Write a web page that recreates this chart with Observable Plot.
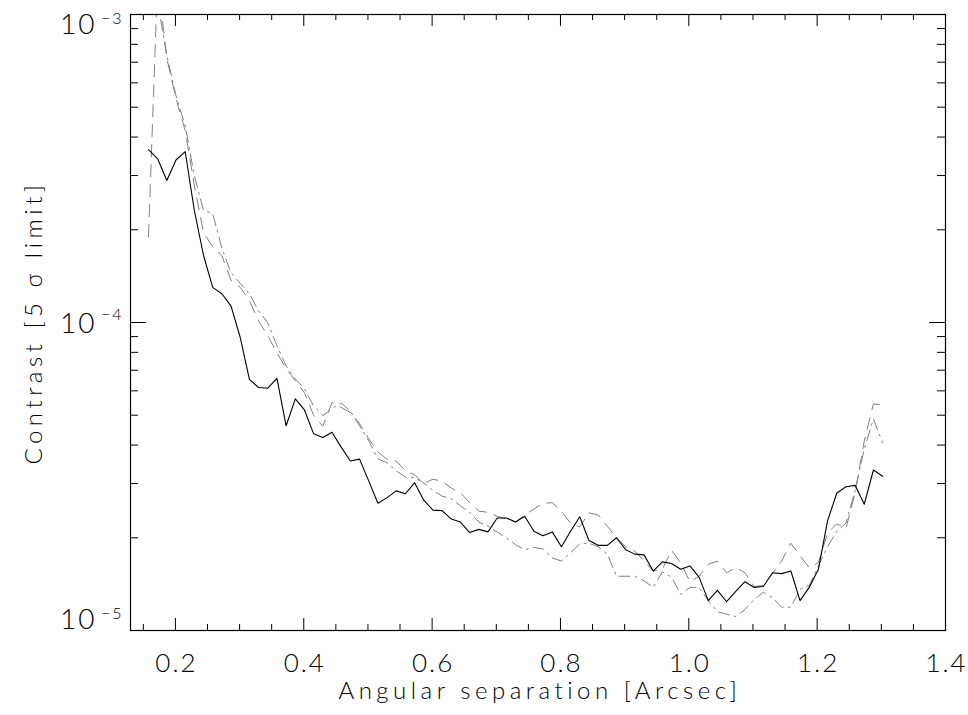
<!DOCTYPE html>
<html>
<head>
<meta charset="utf-8">
<script src="https://cdn.jsdelivr.net/npm/d3@7"></script>
<script src="https://cdn.jsdelivr.net/npm/@observablehq/plot@0.6"></script>
<style>
  html, body { margin: 0; padding: 0; background: #fff; }
  #chart svg { display: block; }
</style>
</head>
<body>
<div id="chart"></div>
<script>
// Radial sampling of the contrast curves (arcsec)
const radiusStart = 0.158;
const radiusStep = 0.0143;

// 5-sigma contrast, solid black curve
const contrastSolid = [
  3.64e-4, 3.40e-4, 2.89e-4, 3.37e-4, 3.59e-4, 2.31e-4, 1.65e-4, 1.30e-4, 1.24e-4, 1.13e-4,
  8.94e-5, 6.54e-5, 6.15e-5, 6.12e-5, 6.59e-5, 4.62e-5, 5.65e-5, 5.20e-5, 4.35e-5, 4.23e-5,
  4.40e-5, 3.94e-5, 3.55e-5, 3.60e-5, 3.06e-5, 2.59e-5, 2.70e-5, 2.84e-5, 2.78e-5, 3.02e-5,
  2.65e-5, 2.46e-5, 2.45e-5, 2.30e-5, 2.25e-5, 2.08e-5, 2.13e-5, 2.09e-5, 2.32e-5, 2.32e-5,
  2.25e-5, 2.35e-5, 2.10e-5, 2.03e-5, 2.09e-5, 1.87e-5, 2.10e-5, 2.34e-5, 1.96e-5, 1.89e-5,
  1.89e-5, 2.00e-5, 1.83e-5, 1.77e-5, 1.76e-5, 1.56e-5, 1.67e-5, 1.65e-5, 1.58e-5, 1.62e-5,
  1.49e-5, 1.25e-5, 1.35e-5, 1.24e-5, 1.34e-5, 1.44e-5, 1.38e-5, 1.39e-5, 1.54e-5, 1.53e-5,
  1.56e-5, 1.25e-5, 1.38e-5, 1.58e-5, 2.27e-5, 2.79e-5, 2.93e-5, 2.96e-5, 2.57e-5, 3.32e-5,
  3.17e-5
];

// 5-sigma contrast, grey dashed curve
const contrastDashed = [
  1.9e-4, 1.3e-3, 7.2e-4, 5.33e-4, 4.2e-4, 2.78e-4, 1.96e-4, 1.76e-4, 1.65e-4, 1.37e-4,
  1.30e-4, 1.18e-4, 1.01e-4, 9.06e-5, 7.98e-5, 7.08e-5, 6.47e-5, 5.91e-5, 5.0e-5, 4.6e-5,
  5.5e-5, 5.3e-5, 5.1e-5, 4.7e-5, 4.2e-5, 3.8e-5, 3.6e-5, 3.55e-5, 3.3e-5, 3.2e-5,
  3.0e-5, 3.1e-5, 3.05e-5, 2.9e-5, 2.8e-5, 2.6e-5, 2.44e-5, 2.42e-5, 2.35e-5, 2.30e-5,
  2.25e-5, 2.37e-5, 2.48e-5, 2.59e-5, 2.60e-5, 2.44e-5, 2.23e-5, 2.17e-5, 2.41e-5, 2.37e-5,
  2.18e-5, 2.0e-5, 1.87e-5, 1.81e-5, 1.68e-5, 1.56e-5, 1.58e-5, 1.82e-5, 1.66e-5, 1.44e-5,
  1.50e-5, 1.64e-5, 1.68e-5, 1.54e-5, 1.60e-5, 1.54e-5, 1.39e-5, 1.40e-5, 1.53e-5, 1.68e-5,
  1.92e-5, 1.75e-5, 1.60e-5, 1.66e-5, 2.07e-5, 2.22e-5, 2.14e-5, 2.80e-5, 4.12e-5, 5.44e-5,
  5.4e-5
];

// 5-sigma contrast, grey dash-dot curve
const contrastDashDot = [
  1.6e-3, 1.1e-3, 7.35e-4, 5.45e-4, 4.36e-4, 3.0e-4, 2.31e-4, 2.26e-4, 1.74e-4, 1.45e-4,
  1.34e-4, 1.24e-4, 1.09e-4, 9.98e-5, 8.4e-5, 7.23e-5, 6.56e-5, 6.09e-5, 5.36e-5, 4.98e-5,
  5.25e-5, 5.48e-5, 5.16e-5, 4.62e-5, 4.13e-5, 3.61e-5, 3.5e-5, 3.3e-5, 3.15e-5, 3.14e-5,
  3.01e-5, 2.85e-5, 2.73e-5, 2.68e-5, 2.54e-5, 2.42e-5, 2.25e-5, 2.18e-5, 2.09e-5, 2.0e-5,
  1.90e-5, 1.83e-5, 1.86e-5, 1.84e-5, 1.72e-5, 1.68e-5, 1.79e-5, 1.91e-5, 1.92e-5, 1.87e-5,
  1.77e-5, 1.50e-5, 1.50e-5, 1.50e-5, 1.45e-5, 1.38e-5, 1.55e-5, 1.49e-5, 1.31e-5, 1.38e-5,
  1.38e-5, 1.25e-5, 1.15e-5, 1.13e-5, 1.11e-5, 1.17e-5, 1.26e-5, 1.33e-5, 1.28e-5, 1.19e-5,
  1.19e-5, 1.36e-5, 1.40e-5, 1.62e-5, 1.87e-5, 2.10e-5, 2.23e-5, 2.84e-5, 3.89e-5, 4.86e-5,
  4.06e-5
];

// Axis ticks and titles
const xMajorTicks = [0.2, 0.4, 0.6, 0.8, 1.0, 1.2, 1.4];
const xMinorTicks = [0.15, 0.25, 0.3, 0.35, 0.45, 0.5, 0.55, 0.65, 0.7, 0.75, 0.85, 0.9, 0.95, 1.05, 1.1, 1.15, 1.25, 1.3, 1.35];
const yMajorTicks = [1e-5, 1e-4, 1e-3];
const yMinorTicks = [2e-5, 3e-5, 4e-5, 5e-5, 6e-5, 7e-5, 8e-5, 9e-5, 2e-4, 3e-4, 4e-4, 5e-4, 6e-4, 7e-4, 8e-4, 9e-4];
const xTitle = "Angular separation [Arcsec]";
const yTitle = "Contrast [5 σ limit]";

const radii = contrastSolid.map((_, i) => radiusStart + i * radiusStep);

const W = 968, H = 715;
const mL = 130, mR = 23, mT = 14, mB = 85;
const fw = W - mL - mR, fh = H - mT - mB;
const ink = "#000";
const grey = "#808080";
const font = "Lato, 'Liberation Sans', sans-serif";

function yLabelMarks(t) {
  const isTop = t === d3.max(yMajorTicks);
  const isBottom = t === d3.min(yMajorTicks);
  const dyMain = isTop ? 11 : isBottom ? -10 : 2;
  const dyExp = isTop ? 4 : isBottom ? -17 : -8;
  return [
    Plot.text([t], {y: d => d, frameAnchor: "left", text: () => "10", textAnchor: "end", lineAnchor: "middle",
      dx: -34, dy: dyMain, fontSize: 28, fill: ink, fontWeight: 300}),
    Plot.text([t], {y: d => d, frameAnchor: "left", text: d => "\u2212" + Math.round(Math.abs(Math.log10(d))),
      textAnchor: "end", lineAnchor: "middle", dx: -7, dy: dyExp, fontSize: 16, fill: ink, fontWeight: 300})
  ];
}

const chart = Plot.plot({
  width: W,
  height: H,
  marginLeft: mL,
  marginRight: mR,
  marginTop: mT,
  marginBottom: mB,
  style: {fontFamily: font, letterSpacing: "2px", background: "#fff", color: ink},
  x: {domain: [0.13, 1.4], axis: null},
  y: {type: "log", domain: [1e-5, 1e-3], axis: null},
  marks: [
    // curves
    Plot.line(contrastDashDot, {x: (d, i) => radii[i], y: d => d, stroke: grey, strokeWidth: 1,
      strokeDasharray: "11,5,2,5", clip: true}),
    Plot.line(contrastDashed, {x: (d, i) => radii[i], y: d => d, stroke: grey, strokeWidth: 1,
      strokeDasharray: "12,8", clip: true}),
    Plot.line(contrastSolid, {x: (d, i) => radii[i], y: d => d, stroke: "#000", strokeWidth: 1.1, clip: true}),
    // inward ticks, all four sides
    Plot.tickX(xMajorTicks, {x: d => d, insetTop: fh - 12, stroke: ink}),
    Plot.tickX(xMajorTicks, {x: d => d, insetBottom: fh - 12, stroke: ink}),
    Plot.tickX(xMinorTicks, {x: d => d, insetTop: fh - 6, stroke: ink}),
    Plot.tickX(xMinorTicks, {x: d => d, insetBottom: fh - 6, stroke: ink}),
    Plot.tickY(yMajorTicks, {y: d => d, insetRight: fw - 16, stroke: ink}),
    Plot.tickY(yMajorTicks, {y: d => d, insetLeft: fw - 16, stroke: ink}),
    Plot.tickY(yMinorTicks, {y: d => d, insetRight: fw - 8, stroke: ink}),
    Plot.tickY(yMinorTicks, {y: d => d, insetLeft: fw - 8, stroke: ink}),
    Plot.frame({stroke: ink, strokeWidth: 1.2}),
    // tick labels
    Plot.text(xMajorTicks, {x: d => d, frameAnchor: "bottom", text: d => d3.format(".1f")(d),
      textAnchor: "middle", lineAnchor: "middle", dy: 33, dx: 1, fontSize: 26, fill: ink, fontWeight: 300}),
    ...yMajorTicks.flatMap(yLabelMarks),
    // axis titles
    Plot.text([xTitle], {frameAnchor: "bottom", text: d => d, textAnchor: "middle", lineAnchor: "middle",
      dy: 61, dx: 2, fontSize: 24, fill: ink, fontWeight: 300}),
    Plot.text([yTitle], {frameAnchor: "left", text: d => d, rotate: -90, textAnchor: "middle", lineAnchor: "middle",
      dx: -96, fontSize: 24, fill: ink, fontWeight: 300})
  ]
});

// wider letter spacing for the two axis titles
d3.select(chart).selectAll("text")
  .filter(function () { return this.textContent === xTitle || this.textContent === yTitle; })
  .style("letter-spacing", "4.5px");

document.getElementById("chart").appendChild(chart);
</script>
</body>
</html>
